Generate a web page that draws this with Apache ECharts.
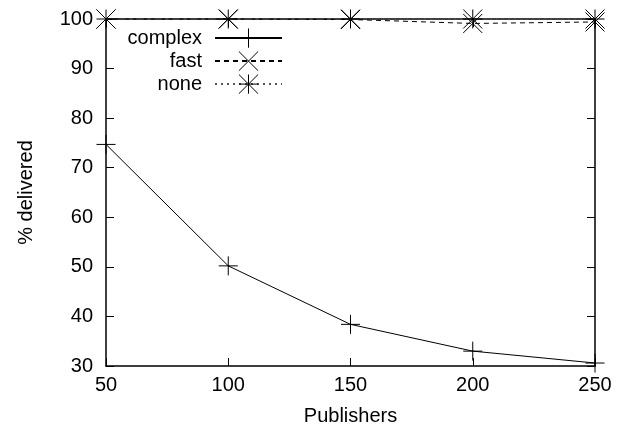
<!DOCTYPE html>
<html>
<head>
<meta charset="utf-8">
<script src="https://cdn.jsdelivr.net/npm/echarts@6/dist/echarts.min.js"></script>
<style>
  html, body { margin: 0; padding: 0; background: #fff; }
  #chart { width: 624px; height: 431px; }
</style>
</head>
<body>
<div id="chart"></div>
<script>
// publishers on the x axis
var publishers = [50, 100, 150, 200, 250];
// % delivered for each mode
var complexVals = [74.7, 50.2, 38.4, 33.0, 30.6];
var fastVals = [100, 100, 99.9, 99.1, 99.4];
var noneVals = [100, 100, 100, 100, 100];

var FONT = 'Liberation Sans';
var plusSym = 'path://M0,5L10,5M5,0L5,10';
var crossSym = 'path://M0,0L10,10M10,0L0,10';
var starSym = 'path://M0,5L10,5M5,0L5,10M0,0L10,10M10,0L0,10';

function pairs(vals) {
    return publishers.map(function (p, i) { return [p, vals[i]]; });
}

var chart = echarts.init(document.getElementById('chart'));

function axisBase(extra) {
    var a = {
        type: 'value',
        axisLine: { show: true, lineStyle: { color: '#000', width: 1.5 } },
        axisTick: { show: true, inside: true, length: 8, lineStyle: { color: '#000', width: 1 } },
        splitLine: { show: false },
        axisLabel: { show: false }
    };
    for (var k in extra) { a[k] = extra[k]; }
    return a;
}

function legendFor(name, top) {
    return {
        data: [name],
        orient: 'vertical',
        right: 341,
        top: top,
        align: 'right',
        padding: 0,
        itemWidth: 67,
        itemHeight: 24,
        selectedMode: false,
        itemStyle: { borderColor: '#000', borderWidth: 1 },
        textStyle: { fontFamily: FONT, fontSize: 20, color: '#000', padding: [0, 8, 0, 0] }
    };
}

var option = {
    animation: false,
    backgroundColor: '#fff',
    grid: { left: 106, right: 29, top: 19, bottom: 59 },
    legend: [legendFor('complex', 28), legendFor('fast', 51), legendFor('none', 74)],
    xAxis: [
        axisBase({
            min: 50, max: 250, interval: 50, position: 'bottom',
            name: 'Publishers', nameLocation: 'middle', nameGap: 40,
            nameTextStyle: { fontFamily: FONT, fontSize: 20, color: '#000' },
            axisLabel: { show: true, margin: 9, fontFamily: FONT, fontSize: 20, color: '#000' }
        }),
        axisBase({ min: 50, max: 250, interval: 50, position: 'top' })
    ],
    yAxis: [
        axisBase({
            min: 30, max: 100, interval: 10, position: 'left',
            name: '% delivered', nameLocation: 'middle', nameGap: 70,
            nameTextStyle: { fontFamily: FONT, fontSize: 20, color: '#000' },
            axisLabel: { show: true, margin: 13, fontFamily: FONT, fontSize: 20, color: '#000' }
        }),
        axisBase({ min: 30, max: 100, interval: 10, position: 'right' })
    ],
    series: [
        {
            name: 'complex', type: 'line', data: pairs(complexVals),
            symbol: plusSym, symbolSize: 19, clip: false,
            lineStyle: { color: '#000', width: 1, type: 'solid' },
            itemStyle: { color: '#000', borderColor: '#000', borderWidth: 1 }
        },
        {
            name: 'fast', type: 'line', data: pairs(fastVals),
            symbol: crossSym, symbolSize: 19, clip: false,
            lineStyle: { color: '#000', width: 1, type: [5, 4] },
            itemStyle: { color: '#000', borderColor: '#000', borderWidth: 1 }
        },
        {
            name: 'none', type: 'line', data: pairs(noneVals),
            symbol: starSym, symbolSize: 19, clip: false,
            lineStyle: { color: '#555', width: 1, type: [2, 4] },
            itemStyle: { color: '#000', borderColor: '#000', borderWidth: 1 }
        }
    ]
};

chart.setOption(option);
</script>
</body>
</html>
